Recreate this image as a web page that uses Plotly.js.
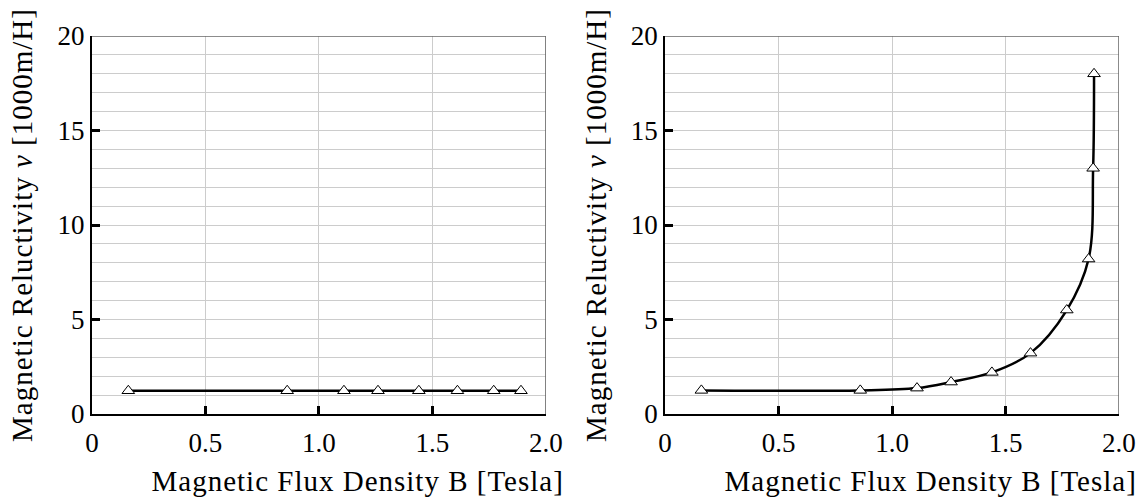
<!DOCTYPE html>
<html>
<head>
<meta charset="utf-8">
<script src="https://cdn.plot.ly/plotly-3.0.1.min.js"></script>
<style>
  html, body { margin: 0; padding: 0; background: #fff; }
  #chart { width: 1144px; height: 499px; }
  /* open up the axis titles a little */
  #chart .ytitle, #chart .y2title, #chart .annotation-text { letter-spacing: 1px; }
</style>
</head>
<body>
<div id="chart"></div>
<script>
// Flux density samples (Tesla) and reluctivity (1000 m/H)
const bLinear = [0.16, 0.86, 1.11, 1.26, 1.44, 1.61, 1.77, 1.89];
const nuLinear = [1.23, 1.23, 1.23, 1.23, 1.23, 1.23, 1.23, 1.23];

const bSat = [0.16, 0.86, 1.11, 1.26, 1.44, 1.61, 1.77, 1.866, 1.886, 1.89];
const nuSat = [1.25, 1.25, 1.37, 1.69, 2.2, 3.22, 5.5, 8.2, 13.0, 18.0];

const xTickVals = [0, 0.5, 1.0, 1.5, 2.0];
const xTickText = ['0', '0.5', '1.0', '1.5', '2.0'];
const yTickVals = [0, 5, 10, 15, 20];
const yTickText = ['0', '5', '10', '15', '20'];

const xTitle = 'Magnetic Flux Density B [Tesla]';
const yTitle = 'Magnetic Reluctivity <i>ν</i> [1000m/H]';

const FONT = 'Liberation Serif';
const GRID = '#cccccc';

const marker = {
  symbol: 'triangle-up', size: 11, color: '#ffffff',
  line: { color: '#000000', width: 1 }
};

const traces = [
  {
    x: bLinear, y: nuLinear, xaxis: 'x', yaxis: 'y',
    mode: 'lines+markers', line: { color: '#000', width: 2.5 },
    marker: marker, showlegend: false, hoverinfo: 'skip'
  },
  {
    x: bSat, y: nuSat, xaxis: 'x2', yaxis: 'y2',
    mode: 'lines+markers', line: { color: '#000', width: 2.5, shape: 'spline', smoothing: 1 },
    marker: marker, showlegend: false, hoverinfo: 'skip'
  }
];

function xAxis(domain, anchor) {
  return {
    domain: domain, anchor: anchor, range: [0, 2.0],
    tickmode: 'array', tickvals: xTickVals, ticktext: xTickText,
    ticks: 'inside', ticklen: 8, tickwidth: 3, tickcolor: '#000',
    ticklabelstandoff: 4,
    showline: true, linecolor: '#000', linewidth: 2,
    showgrid: true, gridcolor: GRID, gridwidth: 1,
    zeroline: false, automargin: false,
    tickfont: { family: FONT, size: 27, color: '#000' }
  };
}

function yAxis(anchor) {
  return {
    domain: [0, 1], anchor: anchor, range: [0, 20],
    tickmode: 'array', tickvals: yTickVals, ticktext: yTickText,
    ticks: 'inside', ticklen: 8, tickwidth: 3, tickcolor: '#000',
    showline: true, linecolor: '#000', linewidth: 2,
    showgrid: true, gridcolor: GRID, gridwidth: 1,
    minor: { dtick: 1, showgrid: true, gridcolor: GRID, gridwidth: 1, ticks: '' },
    zeroline: false, automargin: false,
    tickfont: { family: FONT, size: 27, color: '#000' },
    title: { text: yTitle, standoff: 16,
             font: { family: FONT, size: 29, color: '#000' } }
  };
}

// x-axis caption sits slightly right of the panel centre
function xCaption(xref) {
  return {
    text: xTitle, xref: xref + ' domain', yref: 'paper',
    x: 0.585, y: -0.177, xanchor: 'center', yanchor: 'middle',
    showarrow: false, font: { family: FONT, size: 29, color: '#000' }
  };
}

// grey top and right frame edges for each panel
function frame(xref, yref) {
  return [
    { type: 'line', xref: xref, yref: yref, x0: 0, x1: 2, y0: 20, y1: 20,
      line: { color: '#666', width: 1.5 }, layer: 'above' },
    { type: 'line', xref: xref, yref: yref, x0: 2, x1: 2, y0: 0, y1: 20,
      line: { color: '#666', width: 1.5 }, layer: 'above' }
  ];
}

const layout = {
  width: 1144, height: 499,
  margin: { l: 92, r: 25, t: 36, b: 85 },
  paper_bgcolor: '#fff', plot_bgcolor: '#fff',
  font: { family: FONT, color: '#000' },
  xaxis: xAxis([0, 0.442], 'y'),
  yaxis: yAxis('x'),
  xaxis2: xAxis([0.558, 1], 'y2'),
  yaxis2: yAxis('x2'),
  annotations: [xCaption('x'), xCaption('x2')],
  shapes: frame('x', 'y').concat(frame('x2', 'y2'))
};

Plotly.newPlot('chart', traces, layout, { staticPlot: true, displayModeBar: false });
</script>
</body>
</html>
